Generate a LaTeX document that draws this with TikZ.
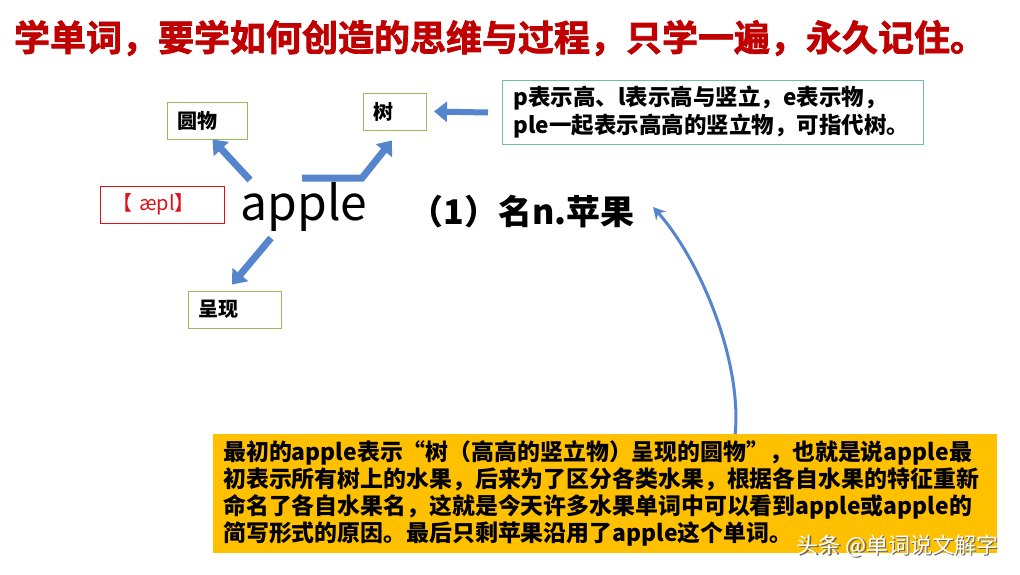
\documentclass[tikz,border=0pt]{standalone}
\usepackage{fontspec}
\setmainfont{Noto Sans CJK SC}
\newfontfamily\titlefont{Noto Sans CJK SC Bold}[FakeBold=2]
\usetikzlibrary{arrows.meta,positioning}

\definecolor{titlered}{HTML}{C00000}
\definecolor{boxgreen}{HTML}{9BBB59}
\definecolor{noteteal}{HTML}{6CC0A6}
\definecolor{phonred}{HTML}{E0101A}
\definecolor{arrowblue}{HTML}{5585CC}
\definecolor{storyyellow}{HTML}{FFC000}

\begin{document}
\begin{tikzpicture}[x=1pt, y=-1pt, >=Stealth,
  wordbox/.style={draw=boxgreen, line width=1pt, inner xsep=10pt, minimum height=37pt,
    anchor=west, align=left, font=\bfseries\fontsize{20}{24}\selectfont},
  bigarrow/.style={draw=arrowblue, line width=7pt, -{Triangle[length=13pt,width=20pt]}}]
  \useasboundingbox[fill=white] (0,0) rectangle (1020,574);

  % title
  \node[text=titlered, font=\titlefont\fontsize{36}{40}\selectfont] (title) at (500,38)
    {学单词，要学如何创造的思维与过程，只学一遍，永久记住。};

  % word and its parts
  \node[font=\fontsize{48}{56}\selectfont] (apple) at (304,207) {apple};
  \node[wordbox, text width=60pt] (yuanwu) at (167,120.5) {圆物};
  \node[wordbox, text width=43pt] (shu) at (363,111.5) {树};
  \node[wordbox, text width=73pt] (chengxian) at (188,309.5) {呈现};
  \node[draw=phonred, line width=0.8pt, anchor=west, minimum height=37pt, inner xsep=12pt,
    text width=100pt, align=left, text=phonred, font=\fontsize{20}{24}\selectfont] (phon) at (100,204.5) {【 æpl】};
  \node[anchor=west, font=\bfseries\fontsize{34}{38}\selectfont] (meaning) at (406,212) {（1）名n.苹果};

  % note on the letters
  \node[draw=noteteal, line width=1pt, anchor=north west, text width=399pt, minimum height=64pt,
    inner xsep=11pt, align=left, font=\bfseries\fontsize{22.5}{28}\selectfont] (note) at (502,80)
    {p表示高、l表示高与竖立，e表示物，\\ple一起表示高高的竖立物，可指代树。};

  % story box
  \node[fill=storyyellow, anchor=north west, text width=764pt, minimum height=119pt,
    inner xsep=10pt, align=left, font=\bfseries\fontsize{22.9}{27}\selectfont] (story) at (213,434)
    {最初的apple表示“树（高高的竖立物）呈现的圆物”，也就是说apple最\\
     初表示所有树上的水果，后来为了区分各类水果，根据各自水果的特征重新\\
     命名了各自水果名，这就是今天许多水果单词中可以看到apple或apple的\\
     简写形式的原因。最后只剩苹果沿用了apple这个单词。};

  \node[text=black!60, font=\fontsize{22}{26}\selectfont, anchor=east] (markshadow) at (1003.5,547.5) {头条 @单词说文解字};
  \node[text=white, font=\fontsize{22}{26}\selectfont, anchor=east] (mark) at (1002,546) {头条 @单词说文解字};

  % arrows
  \draw[bigarrow] ([shift={(-54,-27)}]apple.center) -- ([xshift=5pt]yuanwu.south);
  \draw[bigarrow, line join=miter] ([shift={(-2,-29)}]apple.center) -- ++(60,0)
    -- ([xshift=-3pt,yshift=-10pt]shu.south);
  \draw[bigarrow] ([shift={(-33,31)}]apple.center) -- ([xshift=-3pt,yshift=6pt]chengxian.north);
  \draw[bigarrow, line width=6pt] ([xshift=-14pt]note.west) -- ([xshift=7pt]shu.east);
  \draw[arrowblue, line width=3pt, -{Stealth[length=12pt,width=13pt]}]
    ([xshift=130pt]story.north) .. controls (742,360) and (700,260) .. ([shift={(15,-5)}]meaning.east);
\end{tikzpicture}
\end{document}
